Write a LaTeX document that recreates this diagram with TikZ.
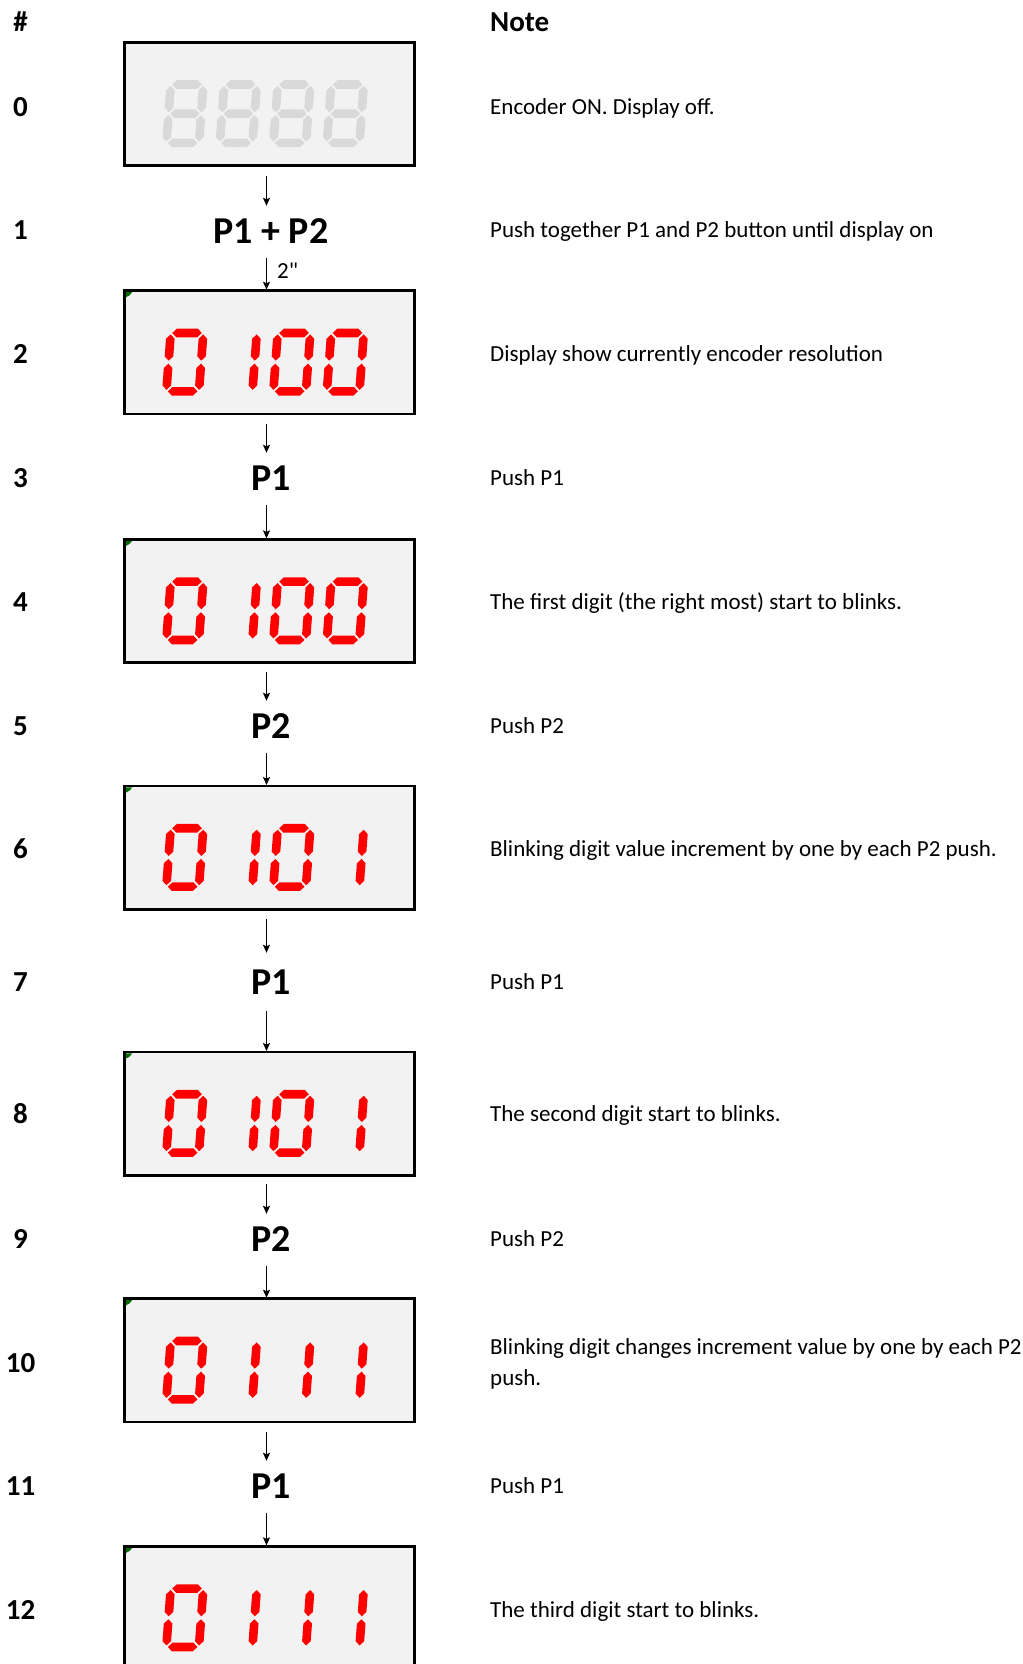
\documentclass[tikz,border=0pt]{standalone}
\usepackage{fontspec}
\setmainfont{Carlito}
\usetikzlibrary{arrows.meta}
\definecolor{segred}{RGB}{255,0,0}
\definecolor{seggray}{RGB}{217,217,217}
\definecolor{boxfill}{RGB}{242,242,242}
\definecolor{cornergreen}{RGB}{0,110,0}

\newcommand\dsga{(8.4,4.2) -- (12.7,-0.1) -- (33.7,-0.1) -- (38,4.2) -- (33.7,8.5) -- (12.7,8.5) -- cycle}
\newcommand\dsgg{(8.4,33.4) -- (12.7,29.1) -- (33.7,29.1) -- (38,33.4) -- (33.7,37.7) -- (12.7,37.7) -- cycle}
\newcommand\dsgd{(8.4,62.6) -- (12.7,58.3) -- (33.7,58.3) -- (38,62.6) -- (33.7,66.9) -- (12.7,66.9) -- cycle}
\newcommand\dsgf{(6.9,5.7) -- (11.2,10) -- (11.2,27.6) -- (6.9,31.9) -- (2.6,27.6) -- (2.6,10) -- cycle}
\newcommand\dsge{(6.9,34.9) -- (11.2,39.2) -- (11.2,56.8) -- (6.9,61.1) -- (2.6,56.8) -- (2.6,39.2) -- cycle}
\newcommand\dsgb{(39.5,5.7) -- (43.8,10) -- (43.8,27.6) -- (39.5,31.9) -- (35.2,27.6) -- (35.2,10) -- cycle}
\newcommand\dsgc{(39.5,34.9) -- (43.8,39.2) -- (43.8,56.8) -- (39.5,61.1) -- (35.2,56.8) -- (35.2,39.2) -- cycle}

\newcommand\segdigit[4]{%
  \begin{scope}[shift={(#1.north west)}, shift={({39.5+53.5*#2},38)}, xslant=0.075]
    \foreach \sg in {#3}{\fill[#4] \csname dsg\sg\endcsname;}
  \end{scope}}
\newcommand\gcorner[1]{%
  \fill[cornergreen] ([shift={(1.4,1.4)}]#1.north west) -- ([shift={(7.5,1.4)}]#1.north west)
    to[bend left=20] ([shift={(1.4,6.5)}]#1.north west) -- cycle;}

\begin{document}
\begin{tikzpicture}[x=1pt,y=-1pt,
  lcdbox/.style={draw=black, line width=2.7pt, fill=boxfill, minimum width=289.7pt,
    minimum height=123.3pt, inner sep=0pt, outer sep=0pt},
  numtxt/.style={font=\fontsize{29}{34}\selectfont\bfseries, inner sep=0pt, anchor=base},
  notetxt/.style={font=\fontsize{23}{30.8}\selectfont, inner sep=0pt, anchor=base west},
  keytxt/.style={font=\fontsize{38}{45}\selectfont\bfseries, inner sep=0pt, minimum height=50pt},
  arr/.style={-{Stealth[length=8pt,width=7pt,inset=1.5pt]}, line width=1.3pt}]

\path[use as bounding box] (0,0) rectangle (1022,1664);
\clip (0,0) rectangle (1022,1664);
\fill[white] (0,0) rectangle (1022,1664);

% header
\node[numtxt] (hnum) at (20.5,31.2) {\#};
\node[numtxt, anchor=base west] (hnote) at (490,31.2) {Note};

% row numbers
\node[numtxt] (n0) at (20.5,116.2) {0};
\node[numtxt] (n1) at (20.5,239.7) {1};
\node[numtxt] (n2) at (20.5,363.2) {2};
\node[numtxt] (n3) at (20.5,487.2) {3};
\node[numtxt] (n4) at (20.5,611.2) {4};
\node[numtxt] (n5) at (20.5,735.2) {5};
\node[numtxt] (n6) at (20.5,858.7) {6};
\node[numtxt] (n7) at (20.5,991.2) {7};
\node[numtxt] (n8) at (20.5,1123.7) {8};
\node[numtxt] (n9) at (20.5,1248.2) {9};
\node[numtxt] (n10) at (20.5,1372.2) {10};
\node[numtxt] (n11) at (20.5,1495.2) {11};
\node[numtxt] (n12) at (20.5,1619.2) {12};

% notes
\node[notetxt] (t0) at (490,114.3) {Encoder ON. Display off.};
\node[notetxt] (t1) at (490,237.8) {Push together P1 and P2 button until display on};
\node[notetxt] (t2) at (490,361.3) {Display show currently encoder resolution};
\node[notetxt] (t3) at (490,485.3) {Push P1};
\node[notetxt] (t4) at (490,609.3) {The first digit (the right most) start to blinks.};
\node[notetxt] (t5) at (490,733.3) {Push P2};
\node[notetxt] (t6) at (490,856.8) {Blinking digit value increment by one by each P2 push.};
\node[notetxt] (t7) at (490,989.3) {Push P1};
\node[notetxt] (t8) at (490,1121.8) {The second digit start to blinks.};
\node[notetxt] (t9) at (490,1246.3) {Push P2};
\node[notetxt, anchor=west, align=left] (t10) at (490,1363.5) {Blinking digit changes increment value by one by each P2\\push.};
\node[notetxt] (t11) at (490,1493.3) {Push P1};
\node[notetxt] (t12) at (490,1617.3) {The third digit start to blinks.};

% display boxes
\node[lcdbox] (b0) at (269.5,104) {};
\node[lcdbox] (b2) at (269.5,352.4) {};
\node[lcdbox] (b4) at (269.5,601) {};
\node[lcdbox] (b6) at (269.5,847.7) {};
\node[lcdbox] (b8) at (269.5,1113.7) {};
\node[lcdbox] (b10) at (269.5,1360.4) {};
\node[lcdbox] (b12) at (269.5,1608) {};

\foreach \b in {b2,b4,b6,b8,b10,b12}{\gcorner{\b}}

% digits
\foreach \k in {0,1,2,3}{\segdigit{b0}{\k}{a,b,c,d,e,f,g}{seggray}}
\foreach \bx in {b2,b4}{%
  \segdigit{\bx}{0}{a,b,c,d,e,f}{segred}
  \segdigit{\bx}{1}{b,c}{segred}
  \segdigit{\bx}{2}{a,b,c,d,e,f}{segred}
  \segdigit{\bx}{3}{a,b,c,d,e,f}{segred}}
\foreach \bx in {b6,b8}{%
  \segdigit{\bx}{0}{a,b,c,d,e,f}{segred}
  \segdigit{\bx}{1}{b,c}{segred}
  \segdigit{\bx}{2}{a,b,c,d,e,f}{segred}
  \segdigit{\bx}{3}{b,c}{segred}}
\foreach \bx in {b10,b12}{%
  \segdigit{\bx}{0}{a,b,c,d,e,f}{segred}
  \segdigit{\bx}{1}{b,c}{segred}
  \segdigit{\bx}{2}{b,c}{segred}
  \segdigit{\bx}{3}{b,c}{segred}}

% key labels
\node[keytxt] (l1) at (270.8,231) {P1 + P2};
\node[keytxt] (l3) at (270.8,478) {P1};
\node[keytxt] (l5) at (270.8,726) {P2};
\node[keytxt] (l7) at (270.8,982) {P1};
\node[keytxt] (l9) at (270.8,1239) {P2};
\node[keytxt] (l11) at (270.8,1486) {P1};

\node[notetxt] (sec) at (277,278.5) {2\XeTeXglyph\XeTeXcharglyph"22\relax};

% connectors
\coordinate (ax) at (266.5,0);
\draw[arr, shorten <=10pt] (b0.south -| ax) -- (l1.north -| ax);
\draw[arr, shorten <=2pt, shorten >=1pt] (l1.south -| ax) -- (b2.north -| ax);
\draw[arr, shorten <=9.5pt] (b2.south -| ax) -- (l3.north -| ax);
\draw[arr, shorten <=2pt, shorten >=1pt] (l3.south -| ax) -- (b4.north -| ax);
\draw[arr, shorten <=9pt] (b4.south -| ax) -- (l5.north -| ax);
\draw[arr, shorten <=1.5pt, shorten >=1pt] (l5.south -| ax) -- (b6.north -| ax);
\draw[arr, shorten <=10pt, shorten >=4pt] (b6.south -| ax) -- (l7.north -| ax);
\draw[arr, shorten <=4pt, shorten >=1pt] (l7.south -| ax) -- (b8.north -| ax);
\draw[arr, shorten <=9pt] (b8.south -| ax) -- (l9.north -| ax);
\draw[arr, shorten <=1.5pt, shorten >=1pt] (l9.south -| ax) -- (b10.north -| ax);
\draw[arr, shorten <=10pt] (b10.south -| ax) -- (l11.north -| ax);
\draw[arr, shorten <=1.5pt, shorten >=1pt] (l11.south -| ax) -- (b12.north -| ax);
\end{tikzpicture}
\end{document}
